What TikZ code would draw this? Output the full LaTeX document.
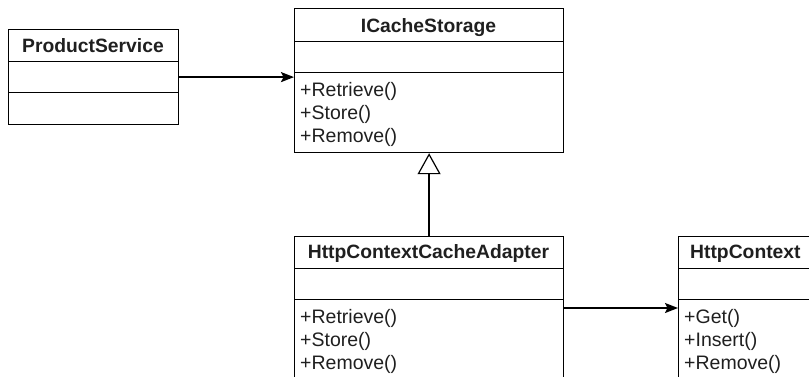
\documentclass[tikz,border=0pt]{standalone}
\usepackage{fontspec}
\setmainfont{Liberation Sans}
\usetikzlibrary{arrows.meta}
\begin{document}
\begin{tikzpicture}[x=1pt,y=-1pt,
  box/.style={draw, line width=1.2pt, inner sep=0pt, anchor=north west},
  hdr/.style={font=\fontsize{19.3}{21}\selectfont\bfseries, anchor=base, inner sep=0pt, text=black!88},
  op/.style={font=\fontsize{19.5}{21}\selectfont, anchor=base west, inner sep=0pt, text=black!88},
  conn/.style={line width=1.8pt},
]
\useasboundingbox (0,0) rectangle (809,376);
\clip (0,0) rectangle (809,376);
% ProductService
\node[box, minimum width=170pt, minimum height=32pt] (pshead) at (8,29) {};
\node[box, minimum width=170pt, minimum height=31pt] (psattr) at (8,61) {};
\node[box, minimum width=170pt, minimum height=32pt] (psops) at (8,92) {};
\node[hdr] (pst) at (93,52) {ProductService};
% ICacheStorage
\node[box, minimum width=269pt, minimum height=33pt] (icshead) at (294,8) {};
\node[box, minimum width=269pt, minimum height=31pt] (icsattr) at (294,41) {};
\node[box, minimum width=269pt, minimum height=80pt] (icsops) at (294,72) {};
\node[hdr] (icst) at (428.5,32) {ICacheStorage};
\node[op] (ics1) at (300,96) {+Retrieve()};
\node[op] (ics2) at (300,119) {+Store()};
\node[op] (ics3) at (300,142) {+Remove()};
% HttpContextCacheAdapter
\node[box, minimum width=269pt, minimum height=32pt] (adhead) at (294,236) {};
\node[box, minimum width=269pt, minimum height=31pt] (adattr) at (294,268) {};
\node[box, minimum width=269pt, minimum height=110pt] (adops) at (294,299) {};
\node[hdr] (adt) at (428.5,258) {HttpContextCacheAdapter};
\node[op] (ad1) at (300,323) {+Retrieve()};
\node[op] (ad2) at (300,346) {+Store()};
\node[op] (ad3) at (300,369) {+Remove()};
% HttpContext
\node[box, minimum width=140pt, minimum height=32pt] (hchead) at (678,236) {};
\node[box, minimum width=140pt, minimum height=31pt] (hcattr) at (678,268) {};
\node[box, minimum width=140pt, minimum height=110pt] (hcops) at (678,299) {};
\node[hdr, anchor=base west] (hct) at (690,258) {HttpContext};
\node[op] (hc1) at (684,323) {+Get()};
\node[op] (hc2) at (684,346) {+Insert()};
\node[op] (hc3) at (684,369) {+Remove()};
% connectors
\draw[conn, -{Stealth[length=13pt, width=10pt, inset=2.5pt]}] (psattr.east) -- (psattr.east -| icsops.west);
\draw[conn, -{Triangle[open, length=21pt, width=23pt, line width=1.2pt]}] (adhead.north) -- (icsops.south);
\coordinate (asrc) at (563,308);
\draw[conn, -{Stealth[length=13pt, width=10pt, inset=2.5pt]}] (asrc) -- (asrc -| hcops.west);
\end{tikzpicture}
\end{document}
